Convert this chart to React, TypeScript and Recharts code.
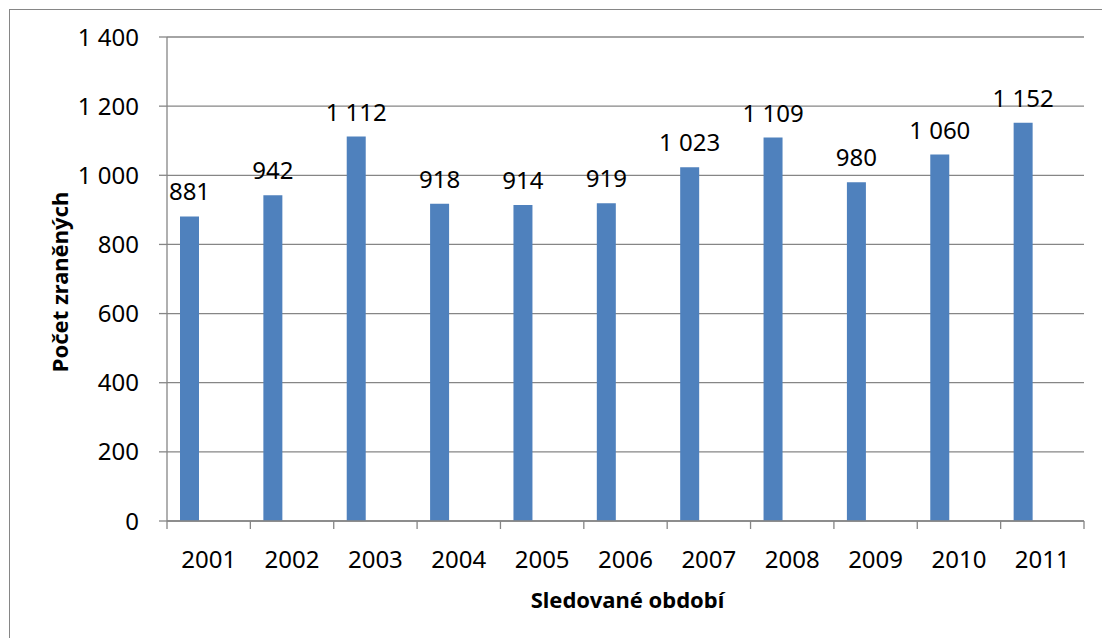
import { BarChart, Bar, XAxis, YAxis, CartesianGrid, LabelList, Label } from "recharts";

const years = ["2001", "2002", "2003", "2004", "2005", "2006", "2007", "2008", "2009", "2010", "2011"];
const injured = [881, 942, 1112, 918, 914, 919, 1023, 1109, 980, 1060, 1152];
const yTicks = [0, 200, 400, 600, 800, 1000, 1200, 1400];

const yTitle = "Počet zraněných";
const xTitle = "Sledované období";

const data = years.map((year, i) => ({ year, injured: injured[i] }));

const fmt = (v: number | string) => String(v).replace(/\B(?=(\d{3})+(?!\d))/g, "\u00a0");

const GREY = "#868686";
const FONT = 24;
const W = 1100;
const H = 628;
const MARGIN = { top: 27, right: 26, bottom: 17, left: 0 };
const Y_W = 157;
const TICK_GAP = 30;
const band = (W - MARGIN.left - MARGIN.right - Y_W) / years.length;

// category label plus the little tick marks sitting on the category edges
const YearTick = (props: any) => {
  const { x, y, payload, index } = props;
  const axisY = y - TICK_GAP;
  return (
    <g>
      <line x1={x - band / 2} x2={x - band / 2} y1={axisY} y2={axisY + 8} stroke={GREY} strokeWidth={1.3} />
      {index === years.length - 1 && (
        <line x1={x + band / 2} x2={x + band / 2} y1={axisY} y2={axisY + 8} stroke={GREY} strokeWidth={1.3} />
      )}
      <text x={x} y={y} dy="0.71em" textAnchor="middle" fill="#000" fontSize={FONT}>
        {payload.value}
      </text>
    </g>
  );
};

const App = () => {
  return (
    <div style={{ position: "fixed", left: 0, top: 0, width: 1102, height: 638, overflow: "hidden", background: "#fff" }}>
      <div
        style={{
          position: "absolute",
          left: 9,
          top: 9,
          width: 1100,
          height: 640,
          border: `1px solid ${GREY}`,
          fontFamily: "'Noto Sans', sans-serif",
        }}
      >
        <BarChart width={W} height={H} data={data} margin={MARGIN} barGap={0} barSize={19}>
          <CartesianGrid vertical={false} stroke={GREY} strokeWidth={1.3} />
          <XAxis
            dataKey="year"
            height={100}
            interval={0}
            tickLine={false}
            tickSize={0}
            tickMargin={TICK_GAP}
            axisLine={{ stroke: GREY, strokeWidth: 1.3 }}
            tick={<YearTick />}
          >
            <Label
              content={({ viewBox }: any) => (
                <text
                  x={viewBox.x + viewBox.width / 2 + 2}
                  y={viewBox.y + 87}
                  textAnchor="middle"
                  fontSize={FONT - 2}
                  fontWeight="bold"
                  fill="#000"
                >
                  {xTitle}
                </text>
              )}
            />
          </XAxis>
          <YAxis
            width={Y_W}
            domain={[0, 1400]}
            ticks={yTicks}
            interval={0}
            tickFormatter={fmt}
            tickSize={8}
            tickMargin={20}
            axisLine={{ stroke: GREY, strokeWidth: 1.3 }}
            tickLine={{ stroke: GREY, strokeWidth: 1.3 }}
            tick={{ fill: "#000", fontSize: FONT }}
          >
            <Label
              content={({ viewBox }: any) => {
                const cx = 58;
                const cy = viewBox.y + viewBox.height / 2 + 3;
                return (
                  <text
                    x={cx}
                    y={cy}
                    transform={`rotate(-90 ${cx} ${cy})`}
                    textAnchor="middle"
                    fontSize={FONT - 2}
                    fontWeight="bold"
                    fill="#000"
                  >
                    {yTitle}
                  </text>
                );
              }}
            />
          </YAxis>
          <Bar dataKey="injured" fill="#4F81BD" isAnimationActive={false}>
            <LabelList dataKey="injured" position="top" offset={16} formatter={fmt} fill="#000" fontSize={FONT} />
          </Bar>
          <Bar dataKey="s2" fill="#C0504D" isAnimationActive={false} />
          <Bar dataKey="s3" fill="#9BBB59" isAnimationActive={false} />
        </BarChart>
      </div>
    </div>
  );
};

export default App;
